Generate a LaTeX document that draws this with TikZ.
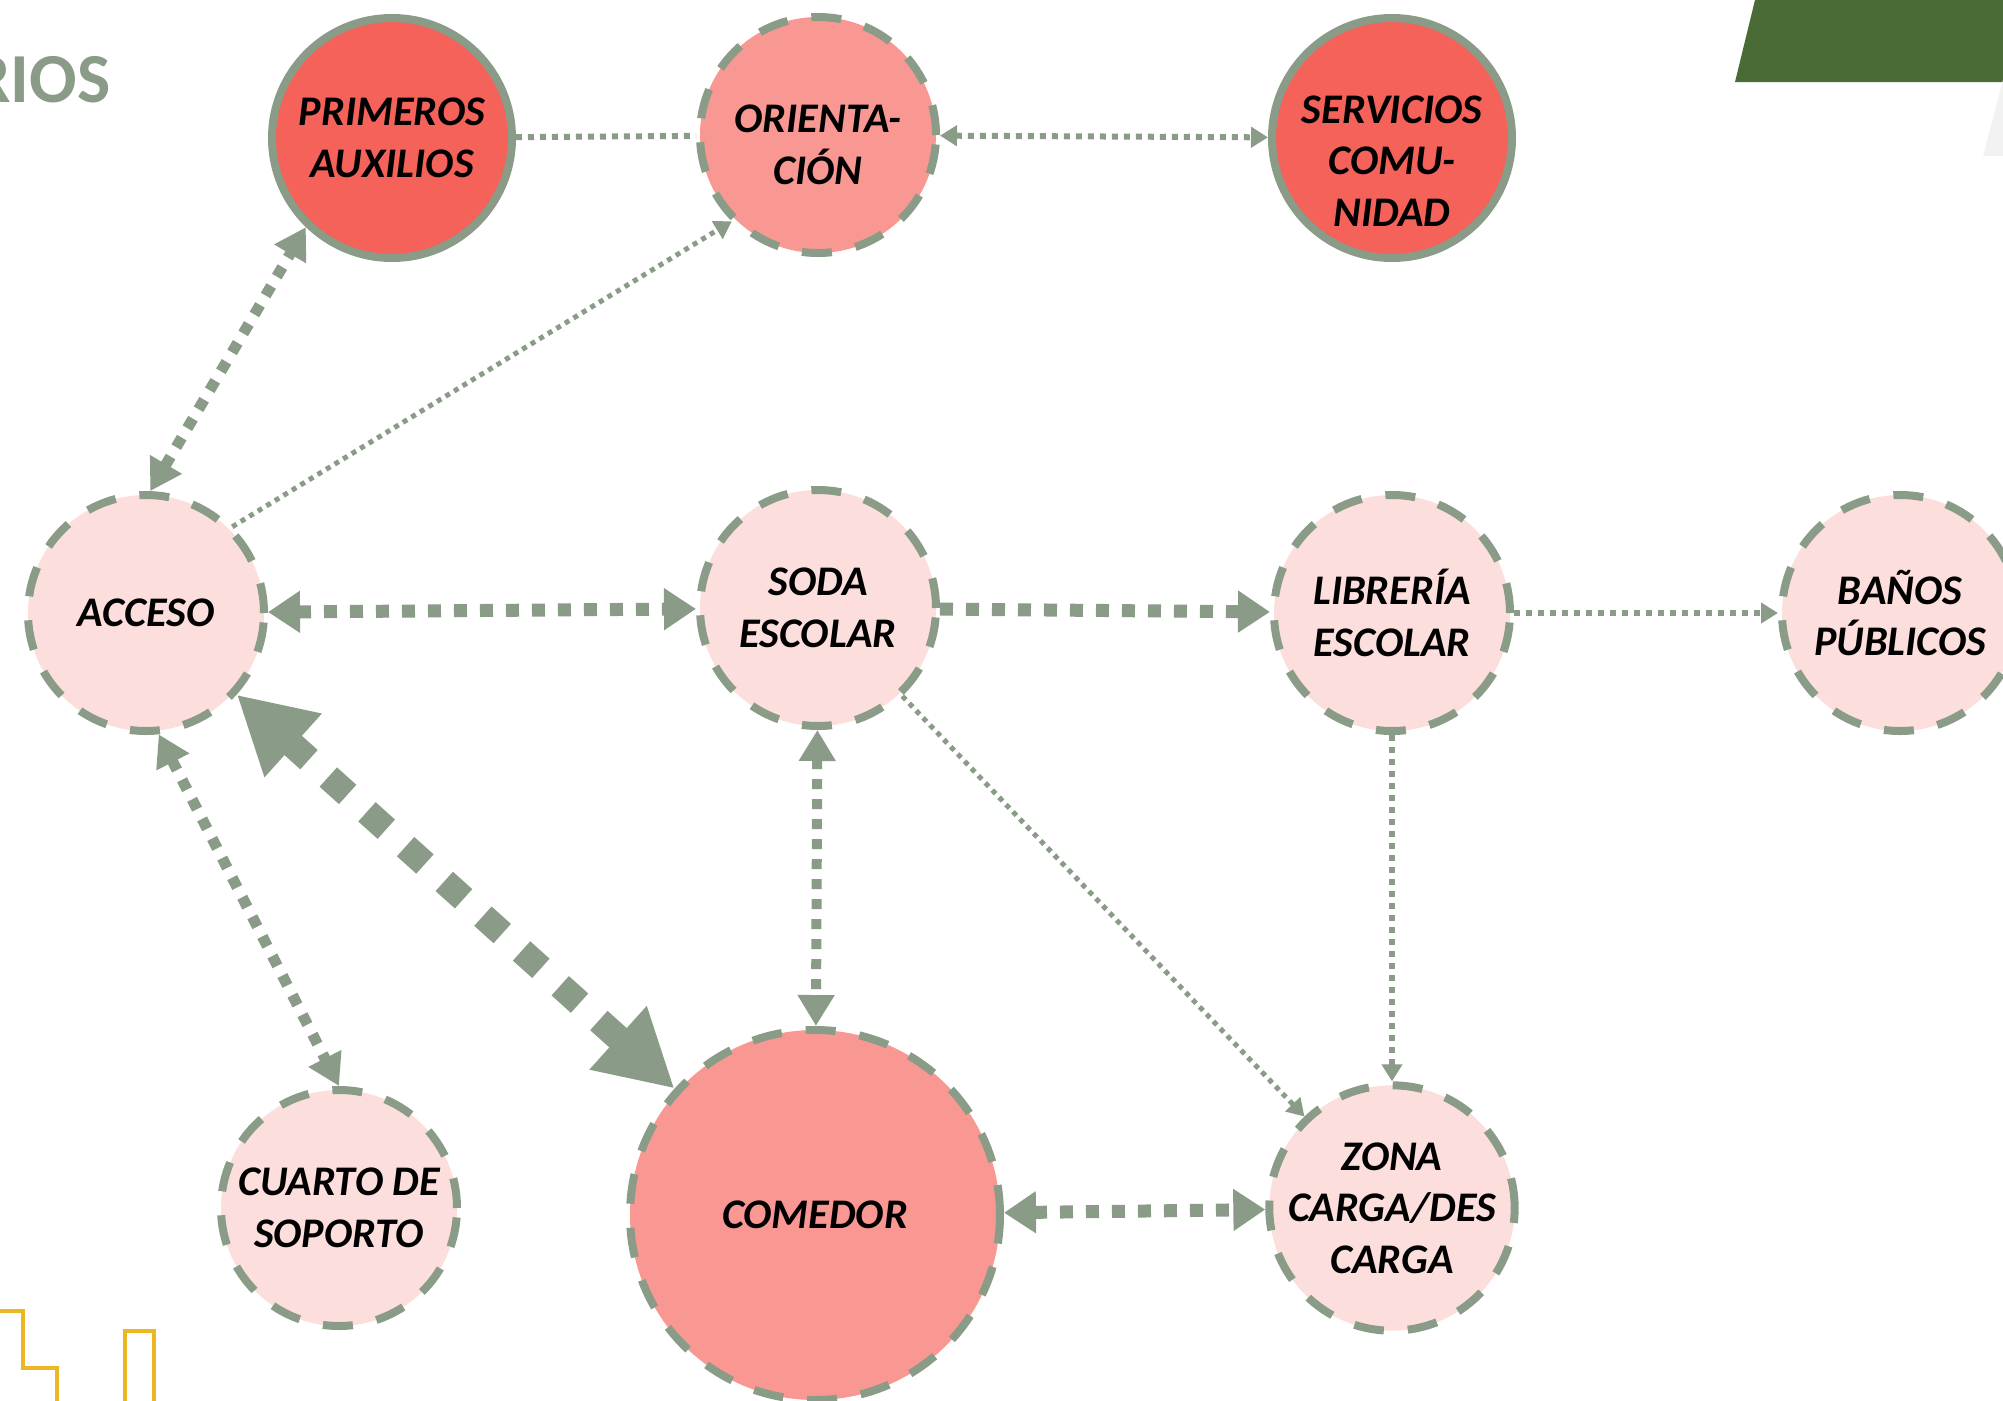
\documentclass[tikz,border=0pt]{standalone}
\usepackage{fontspec}
\setmainfont{Carlito}
\usetikzlibrary{arrows.meta}

\definecolor{sage}{HTML}{8A9B88}
\definecolor{coral}{HTML}{F4625A}
\definecolor{salmon}{HTML}{F99893}
\definecolor{blush}{HTML}{FCDEDC}
\definecolor{leaf}{HTML}{4A6B35}
\definecolor{mist}{HTML}{F2F2F2}
\definecolor{mustard}{HTML}{EBB824}

\tikzset{
  zonefont/.style={font=\bfseries\itshape\fontsize{12}{14.7}\selectfont, align=center},
  zone/.style={circle, draw=sage, line width=0.8mm, inner sep=0pt, zonefont,
    minimum size=23.6mm},
  zonedash/.style={zone, dash pattern=on 3mm off 2.4mm},
  link/.style={draw=sage, line width=#1, dash pattern=on #1 off #1},
  tipS/.tip={Triangle[length=1.7mm,width=2mm]},
  tipM/.tip={Triangle[length=3.1mm,width=3.5mm]},
  tipL/.tip={Triangle[length=3.2mm,width=4mm]},
  tipXL/.tip={Triangle[length=7.6mm,width=8mm]},
}

\begin{document}
\begin{tikzpicture}[x=0.1mm, y=-0.1mm]
\useasboundingbox (0,0) rectangle (2003,1401);
\clip (0,0) rectangle (2003,1401);

% page decoration
\fill[leaf] (1755,0) -- (2003,0) -- (2003,82) -- (1735,82) -- cycle;
\fill[mist] (1983,156) -- (2003,80) -- (2003,156) -- cycle;
\draw[mustard, line width=0.35mm] (0,1311) -- (23,1311) -- (23,1368) -- (57,1368) -- (57,1401);
\draw[mustard, line width=0.35mm] (125,1401) -- (125,1331) -- (154,1331) -- (154,1401);
\node[anchor=base east, inner sep=0pt, text=sage, font=\bfseries\fontsize{20}{24}\selectfont] (title) at (111,102) {RIOS};

% areas
\node[zone, fill=coral, minimum size=24mm] (primeros) at (392,138) {PRIMEROS\\AUXILIOS};
\node[zonedash, fill=salmon, label={[zonefont, yshift=-1mm]center:ORIENTA-\\CIÓN}] (orient) at (818,135) {};
\node[zone, fill=coral, minimum size=24mm, label={[zonefont, yshift=-2.3mm]center:SERVICIOS\\COMU-\\NIDAD}] (servicios) at (1392,138) {};
\node[zonedash, fill=blush] (acceso) at (146,613) {ACCESO};
\node[zonedash, fill=blush] (soda) at (818,608) {SODA\\ESCOLAR};
\node[zonedash, fill=blush] (libreria) at (1392,613) {LIBRERÍA\\ESCOLAR};
\node[zonedash, fill=blush] (banos) at (1900,613) {BAÑOS\\PÚBLICOS};
\node[zonedash, fill=blush] (cuarto) at (339,1208) {CUARTO DE\\SOPORTO};
\node[zonedash, fill=salmon, minimum size=37mm] (comedor) at (815,1215) {COMEDOR};
\node[zonedash, fill=blush] (zona) at (1392,1208) {ZONA\\CARGA/DES\\CARGA};

% links
\draw[link=0.6mm] (primeros) -- (orient);
\draw[link=0.6mm, tipS-tipS] (orient) -- (servicios);
\draw[link=1.1mm, tipM-tipM] (acceso.88) -- (primeros.226);
\draw[link=0.5mm, -tipS] (acceso.45) -- (orient.225);
\draw[link=1.3mm, tipL-tipL] (acceso) -- (soda);
\draw[link=1.3mm, -tipL] (soda) -- (libreria);
\draw[link=0.6mm, -tipS] (libreria) -- (banos);
\draw[link=0.6mm, -tipS] (libreria) -- (zona);
\draw[link=0.5mm, -tipS] (soda) -- (zona);
\draw[link=1mm, tipM-tipM] (soda) -- (comedor);
\draw[link=2.6mm, tipXL-tipXL] (acceso) -- (comedor);
\draw[link=1.1mm, tipM-tipM] (acceso.-84) -- (cuarto.north);
\draw[link=1.3mm, tipL-tipL] (comedor) -- (zona);
\end{tikzpicture}
\end{document}
